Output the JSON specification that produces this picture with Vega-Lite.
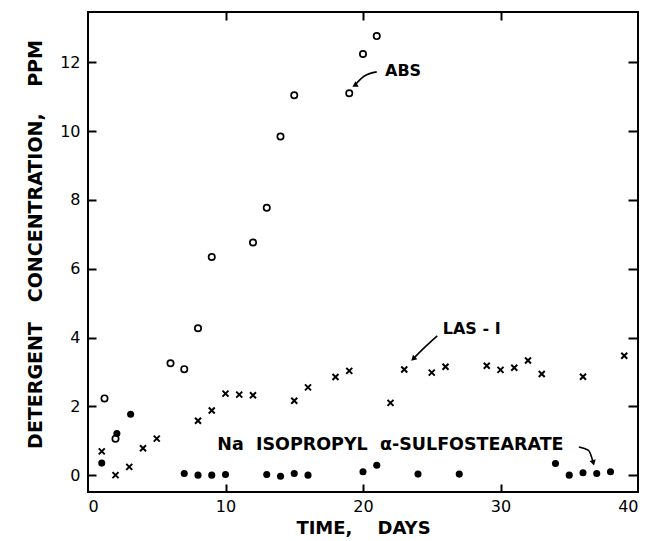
{
  "$schema": "https://vega.github.io/schema/vega-lite/v6.json",
  "autosize": {"type": "none"},
  "padding": {"left": 88, "top": 12, "right": 10, "bottom": 49},
  "width": 550,
  "height": 480,
  "background": "white",
  "config": {
    "view": {"stroke": "black", "strokeWidth": 2},
    "axis": {"grid": false, "domain": false, "tickColor": "black", "tickWidth": 2, "labelColor": "black", "titleColor": "black", "labelFont": "DejaVu Sans", "titleFont": "DejaVu Sans", "labelFontSize": 16, "titleFontSize": 15, "titleFontWeight": "bold"}
  },
  "datasets": {
    "abs": [
      {"day": 1.2, "ppm": 2.23}, {"day": 2, "ppm": 1.06}, {"day": 6, "ppm": 3.25}, {"day": 7, "ppm": 3.08},
      {"day": 8, "ppm": 4.27}, {"day": 9, "ppm": 6.34}, {"day": 12, "ppm": 6.76}, {"day": 13, "ppm": 7.77},
      {"day": 14, "ppm": 9.84}, {"day": 15, "ppm": 11.04}, {"day": 19, "ppm": 11.1}, {"day": 20, "ppm": 12.24},
      {"day": 21, "ppm": 12.76}
    ],
    "las": [
      {"day": 1, "ppm": 0.69}, {"day": 2, "ppm": 0.0}, {"day": 3, "ppm": 0.24}, {"day": 4, "ppm": 0.78},
      {"day": 5, "ppm": 1.06}, {"day": 8, "ppm": 1.58}, {"day": 9, "ppm": 1.88}, {"day": 10, "ppm": 2.37},
      {"day": 11, "ppm": 2.34}, {"day": 12, "ppm": 2.32}, {"day": 15, "ppm": 2.16}, {"day": 16, "ppm": 2.55},
      {"day": 18, "ppm": 2.85}, {"day": 19, "ppm": 3.03}, {"day": 22, "ppm": 2.1}, {"day": 23, "ppm": 3.07},
      {"day": 25, "ppm": 2.98}, {"day": 26, "ppm": 3.15}, {"day": 29, "ppm": 3.18}, {"day": 30, "ppm": 3.06},
      {"day": 31, "ppm": 3.12}, {"day": 32, "ppm": 3.33}, {"day": 33, "ppm": 2.94}, {"day": 36, "ppm": 2.86},
      {"day": 39, "ppm": 3.47}
    ],
    "na": [
      {"day": 1, "ppm": 0.35}, {"day": 2.1, "ppm": 1.21}, {"day": 3.1, "ppm": 1.77}, {"day": 7, "ppm": 0.05},
      {"day": 8, "ppm": 0.0}, {"day": 9, "ppm": 0.0}, {"day": 10, "ppm": 0.02}, {"day": 13, "ppm": 0.02},
      {"day": 14, "ppm": -0.03}, {"day": 15, "ppm": 0.05}, {"day": 16, "ppm": 0.0}, {"day": 20, "ppm": 0.1},
      {"day": 21, "ppm": 0.29}, {"day": 24, "ppm": 0.03}, {"day": 27, "ppm": 0.03}, {"day": 34, "ppm": 0.34},
      {"day": 35, "ppm": 0.0}, {"day": 36, "ppm": 0.07}, {"day": 37, "ppm": 0.05}, {"day": 38, "ppm": 0.1}
    ],
    "labels": [
      {"day": 21.6, "ppm": 11.74, "label": "ABS"},
      {"day": 25.8, "ppm": 4.24, "label": "LAS - I"},
      {"day": 9.4, "ppm": 0.88, "label": "Na\u00a0\u00a0ISOPROPYL\u00a0\u00a0α-SULFOSTEARATE"}
    ],
    "arrows": [
      {"arrow": "abs", "seq": 1, "day": 21.0, "ppm": 11.72},
      {"arrow": "abs", "seq": 2, "day": 20.1, "ppm": 11.6},
      {"arrow": "abs", "seq": 3, "day": 19.4, "ppm": 11.33},
      {"arrow": "las", "seq": 1, "day": 25.4, "ppm": 4.05},
      {"arrow": "las", "seq": 2, "day": 24.5, "ppm": 3.72},
      {"arrow": "las", "seq": 3, "day": 23.65, "ppm": 3.38},
      {"arrow": "na", "seq": 1, "day": 35.7, "ppm": 0.82},
      {"arrow": "na", "seq": 2, "day": 36.4, "ppm": 0.72},
      {"arrow": "na", "seq": 3, "day": 36.75, "ppm": 0.36}
    ]
  },
  "layer": [
    {
      "data": {"name": "abs"},
      "mark": {"type": "point", "shape": "circle", "filled": false, "stroke": "black", "strokeWidth": 1.7, "size": 40, "opacity": 1},
      "encoding": {
        "x": {"field": "day", "type": "quantitative", "scale": {"domain": [0, 40], "nice": false},
              "axis": {"orient": "bottom", "values": [0, 10, 20, 30, 40], "ticks": false, "labelPadding": 6, "title": "TIME,\u00a0\u00a0\u00a0\u00a0DAYS", "titlePadding": 5, "titleFontSize": 18}},
        "y": {"field": "ppm", "type": "quantitative", "scale": {"domain": [-0.49, 13.46], "nice": false, "zero": false},
              "axis": {"orient": "left", "values": [0, 2, 4, 6, 8, 10, 12], "ticks": false, "labelPadding": 8, "title": "DETERGENT\u00a0\u00a0\u00a0CONCENTRATION,\u00a0\u00a0\u00a0\u00a0PPM", "titlePadding": 14, "titleFontSize": 19, "titleY": 232}}
      }
    },
    {
      "data": {"name": "las"},
      "mark": {"type": "point", "shape": "M-1,-1L1,1M-1,1L1,-1", "filled": false, "stroke": "black", "strokeWidth": 2, "size": 36, "opacity": 1},
      "encoding": {
        "x": {"field": "day", "type": "quantitative", "axis": {"orient": "bottom", "values": [10, 20, 30], "tickSize": -8, "labels": false, "title": null}},
        "y": {"field": "ppm", "type": "quantitative", "axis": {"orient": "left", "values": [0, 2, 4, 6, 8, 10, 12], "tickSize": -8, "labels": false, "title": null}}
      }
    },
    {
      "data": {"name": "na"},
      "mark": {"type": "point", "shape": "circle", "filled": true, "fill": "black", "size": 50, "opacity": 1},
      "encoding": {
        "x": {"field": "day", "type": "quantitative", "axis": null},
        "y": {"field": "ppm", "type": "quantitative", "axis": null}
      }
    },
    {
      "data": {"name": "arrows"},
      "mark": {"type": "line", "stroke": "black", "strokeWidth": 1.6, "interpolate": "monotone"},
      "encoding": {
        "x": {"field": "day", "type": "quantitative", "axis": null},
        "y": {"field": "ppm", "type": "quantitative", "axis": null},
        "detail": {"field": "arrow"},
        "order": {"field": "seq"}
      }
    },
    {
      "data": {"name": "arrows"},
      "transform": [{"filter": "datum.arrow == 'abs' && datum.seq == 3"}],
      "mark": {"type": "point", "shape": "triangle-up", "filled": true, "fill": "black", "size": 40, "angle": 240, "opacity": 1},
      "encoding": {"x": {"field": "day", "type": "quantitative", "axis": null}, "y": {"field": "ppm", "type": "quantitative", "axis": null}}
    },
    {
      "data": {"name": "arrows"},
      "transform": [{"filter": "datum.arrow == 'las' && datum.seq == 3"}],
      "mark": {"type": "point", "shape": "triangle-up", "filled": true, "fill": "black", "size": 40, "angle": 226, "opacity": 1},
      "encoding": {"x": {"field": "day", "type": "quantitative", "axis": null}, "y": {"field": "ppm", "type": "quantitative", "axis": null}}
    },
    {
      "data": {"name": "arrows"},
      "transform": [{"filter": "datum.arrow == 'na' && datum.seq == 3"}],
      "mark": {"type": "point", "shape": "triangle-up", "filled": true, "fill": "black", "size": 40, "angle": 165, "opacity": 1},
      "encoding": {"x": {"field": "day", "type": "quantitative", "axis": null}, "y": {"field": "ppm", "type": "quantitative", "axis": null}}
    },
    {
      "data": {"name": "labels"},
      "mark": {"type": "text", "align": "left", "baseline": "middle", "font": "DejaVu Sans", "fontWeight": "bold", "fontSize": 16, "color": "black"},
      "encoding": {
        "x": {"field": "day", "type": "quantitative",
              "axis": {"orient": "top", "values": [10, 20, 30], "tickSize": -8, "labels": false, "title": null}},
        "y": {"field": "ppm", "type": "quantitative",
              "axis": {"orient": "right", "values": [0, 2, 4, 6, 8, 10, 12], "tickSize": -10, "labels": false, "title": null}},
        "text": {"field": "label"},
        "size": {"condition": {"test": "length(datum.label) > 10", "value": 17.5}, "value": 16}
      }
    }
  ],
  "resolve": {"axis": {"x": "independent", "y": "independent"}}
}
